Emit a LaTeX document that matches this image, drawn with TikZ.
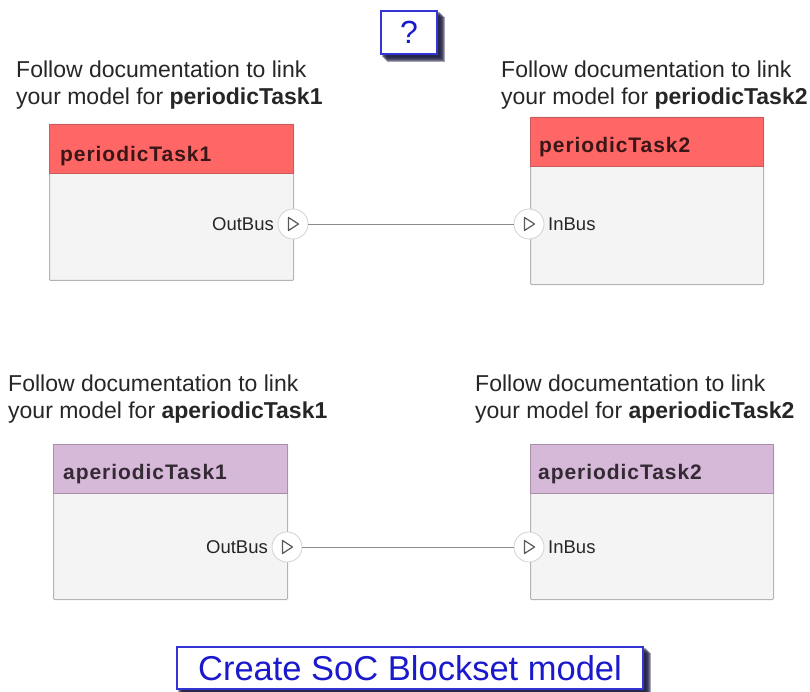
\documentclass[tikz,border=0pt]{standalone}
\usepackage{fontspec}
\setmainfont{Liberation Sans}
\usetikzlibrary{backgrounds}
\definecolor{capt}{HTML}{262626}
\definecolor{bodyfill}{HTML}{F4F4F4}
\definecolor{bodyline}{HTML}{B4B4B4}
\definecolor{redhdr}{HTML}{FF6666}
\definecolor{redline}{HTML}{C85A5A}
\definecolor{redtxt}{HTML}{3A1616}
\definecolor{purhdr}{HTML}{D6B8D8}
\definecolor{purline}{HTML}{A890A8}
\definecolor{purtxt}{HTML}{332A33}
\definecolor{btnblue}{HTML}{1A1ACC}
\definecolor{btnline}{HTML}{3434D4}
\definecolor{navyshade}{HTML}{1C1C40}
\definecolor{wirec}{HTML}{8C8C8C}
\definecolor{portline}{HTML}{D2D2D2}
\definecolor{portmk}{HTML}{5A5A5A}
\tikzset{
  caption/.style={anchor=base west, inner sep=0pt, text=capt,
    font=\fontsize{23}{27}\selectfont},
  blockbody/.style={anchor=north west, draw=bodyline, fill=bodyfill,
    line width=1pt, rounded corners=1pt, inner sep=0pt},
  header/.style={anchor=north west, line width=1pt, inner sep=0pt},
  hdrtext/.style={anchor=base west, inner sep=0pt,
    font=\fontsize{21}{25}\selectfont\bfseries\addfontfeature{LetterSpace=4.5}},
  port/.style={circle, draw=portline, fill=white, line width=0.8pt,
    minimum size=30, inner sep=0pt},
  portlabel/.style={inner sep=0pt, text=capt,
    font=\fontsize{18.5}{22}\selectfont},
  wire/.style={draw=wirec, line width=0.9pt},
  portmark/.style={draw=portmk, line width=1.2pt, line join=round},
  button/.style={draw=btnline, fill=white, line width=1.6pt, text=btnblue,
    inner sep=0pt},
  shade1/.style={fill=navyshade, opacity=0.4},
}
\newcommand{\portmarkat}[1]{%
  \draw[portmark] ([shift={(-4.5,-6.5)}]#1.center) -- ([shift={(5.5,0)}]#1.center)
    -- ([shift={(-4.5,6.5)}]#1.center) -- cycle;}
\newcommand{\shadebehind}[1]{%
  \begin{pgfonlayer}{background}
    \foreach \d in {2,3,4,5,6,7}
      \fill[shade1] ([shift={(\d,\d)}]#1.north west) rectangle ([shift={(\d,\d)}]#1.south east);
  \end{pgfonlayer}}
\begin{document}
\begin{tikzpicture}[x=1pt,y=-1pt]
\useasboundingbox (0,0) rectangle (810,692);

% help button
\node[button, minimum width=56, minimum height=43,
  font=\fontsize{32}{36}\selectfont] (help) at (409,32.5) {?};
\shadebehind{help}

% captions, upper row
\node[caption] (c1a) at (16,78) {Follow documentation to link};
\node[caption] (c1b) at (16,105) {your model for \textbf{periodicTask1}};
\node[caption] (c2a) at (501,78) {Follow documentation to link};
\node[caption] (c2b) at (501,105) {your model for \textbf{periodicTask2}};

% periodicTask1 block
\node[blockbody, minimum width=244, minimum height=156] (b1) at (49,124) {};
\node[header, fill=redhdr, draw=redline, minimum width=244, minimum height=49] (h1) at (49,124) {};
\node[hdrtext, text=redtxt] (t1) at (60,162) {periodicTask1};

% periodicTask2 block
\node[blockbody, minimum width=233, minimum height=167] (b2) at (530,117) {};
\node[header, fill=redhdr, draw=redline, minimum width=233, minimum height=49] (h2) at (530,117) {};
\node[hdrtext, text=redtxt] (t2) at (539,153) {periodicTask2};

% ports, upper row
\node[port] (p1) at (293,224) {};
\portmarkat{p1}
\node[portlabel, anchor=east] (l1) at (274,224) {OutBus};
\node[port] (p2) at (529,224) {};
\portmarkat{p2}
\node[portlabel, anchor=west] (l2) at (548,224) {InBus};
\draw[wire] (p1.east) -- (p2.west);

% captions, lower row
\node[caption] (c3a) at (8,391) {Follow documentation to link};
\node[caption] (c3b) at (8,418) {your model for \textbf{aperiodicTask1}};
\node[caption] (c4a) at (475,391) {Follow documentation to link};
\node[caption] (c4b) at (475,418) {your model for \textbf{aperiodicTask2}};

% aperiodicTask1 block
\node[blockbody, minimum width=234, minimum height=155] (b3) at (53,444) {};
\node[header, fill=purhdr, draw=purline, minimum width=234, minimum height=49] (h3) at (53,444) {};
\node[hdrtext, text=purtxt] (t3) at (63,479) {aperiodicTask1};

% aperiodicTask2 block
\node[blockbody, minimum width=243, minimum height=155] (b4) at (530,444) {};
\node[header, fill=purhdr, draw=purline, minimum width=243, minimum height=49] (h4) at (530,444) {};
\node[hdrtext, text=purtxt] (t4) at (538,479) {aperiodicTask2};

% ports, lower row
\node[port] (p3) at (287,547) {};
\portmarkat{p3}
\node[portlabel, anchor=east] (l3) at (268,547) {OutBus};
\node[port] (p4) at (529,547) {};
\portmarkat{p4}
\node[portlabel, anchor=west] (l4) at (548,547) {InBus};
\draw[wire] (p3.east) -- (p4.west);

% create model button
\node[button, minimum width=466, minimum height=42,
  font=\fontsize{34.5}{38}\selectfont] (create) at (410,668) {Create SoC Blockset model};
\shadebehind{create}
\end{tikzpicture}
\end{document}
